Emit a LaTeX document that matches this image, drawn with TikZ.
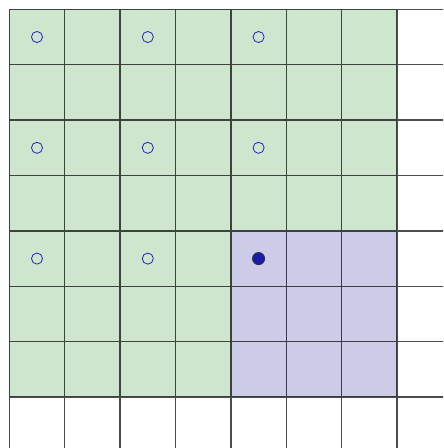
\documentclass[tikz,border=0pt]{standalone}
\usepackage{tikz}
\usetikzlibrary{positioning}
\definecolor{cellgreen}{RGB}{206,230,206}
\definecolor{cellblue}{RGB}{204,204,232}
\definecolor{markblue}{RGB}{30,30,190}

\tikzset{
  gridline/.style={black, opacity=0.7, line width=0.7pt},
  openmark/.style={circle, draw=markblue, thin, inner sep=0pt, minimum size=0.2cm},
  fullmark/.style={circle, draw=black!80, fill=markblue!90!black, thin, inner sep=0pt, minimum size=0.22cm}
}

\begin{document}
\begin{tikzpicture}
  \useasboundingbox (-0.168,0.081) rectangle (7.83,8.168);
  \clip (-0.168,0.081) rectangle (7.83,8.168);

  % Regions
  \fill[cellgreen] (0,1) rectangle (7,8);
  \fill[cellblue] (4,1) rectangle (7,4);

  % Grid
  \draw[gridline] (0,0) grid (8,8);

  % Marks
  \foreach \i in {0,2,4} {
    \foreach \j in {0,2,4} {
      \ifnum\i=4 \ifnum\j=4 \else
        \node[openmark] (m\i\j) at (\i+0.5,7.5-\j) {};
      \fi \else
        \node[openmark] (m\i\j) at (\i+0.5,7.5-\j) {};
      \fi
    }
  }
  \node[fullmark] (m44) at (4.5,3.5) {};
\end{tikzpicture}
\end{document}
